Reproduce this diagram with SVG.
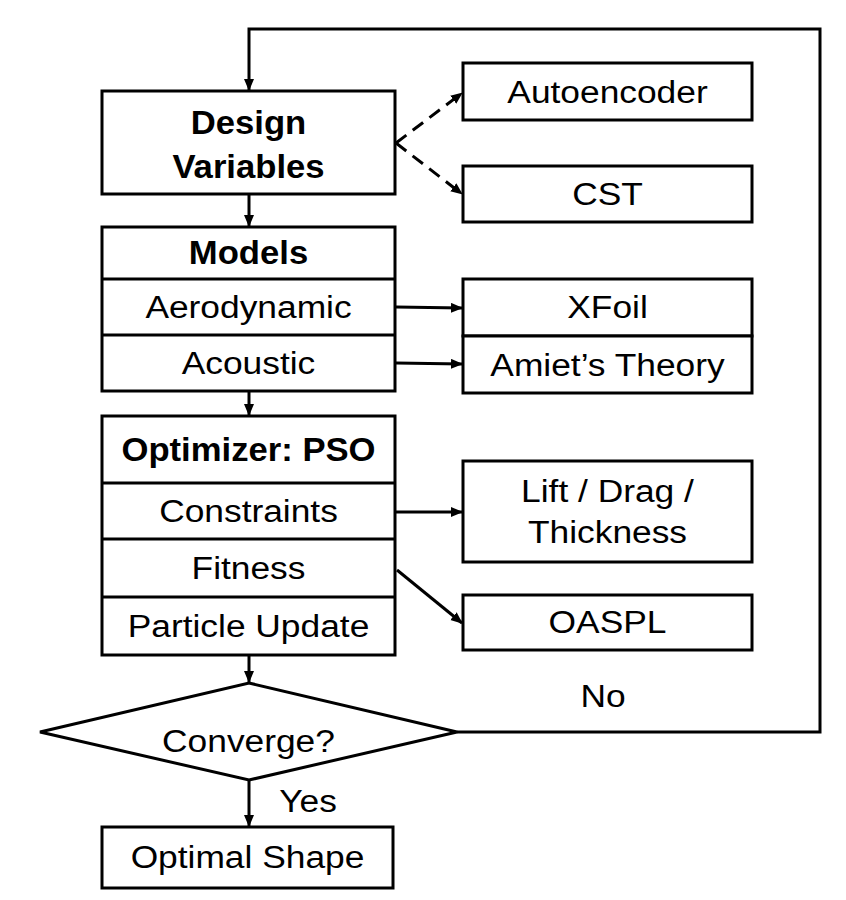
<svg xmlns="http://www.w3.org/2000/svg" width="846" height="900" viewBox="0 0 846 900">
<style>
  .box { fill: #ffffff; stroke: #000000; stroke-width: 3; }
  .div { stroke: #000000; stroke-width: 3; }
  .t { font-family: "Liberation Sans", Arial, sans-serif; font-size: 31px; fill: #000000; text-anchor: middle; }
  .b { font-weight: bold; font-size: 33px; }
  .c { fill: none; stroke: #000000; stroke-width: 3; }
  .d { stroke-dasharray: 13 8; }
</style>
<defs>
  <marker id="ah" markerUnits="userSpaceOnUse" markerWidth="14" markerHeight="12" refX="11" refY="5" orient="auto">
    <path d="M0,0 L12,5 L0,10 z" fill="#000000"/>
  </marker>
</defs>
<rect width="846" height="900" fill="#ffffff"/>

<g id="connectors">
  <path class="c" d="M457,732 L820,732 L820,29 L249,29 L249,90" marker-end="url(#ah)"/>
  <path class="c" d="M249,194 L249,226" marker-end="url(#ah)"/>
  <path class="c" d="M249,391 L249,415" marker-end="url(#ah)"/>
  <path class="c" d="M249,655 L249,682" marker-end="url(#ah)"/>
  <path class="c" d="M249,780 L249,826" marker-end="url(#ah)"/>
  <path class="c d" d="M396,143 L462,93" marker-end="url(#ah)"/>
  <path class="c d" d="M396,143 L462,194" marker-end="url(#ah)"/>
  <path class="c" d="M396,307 L462,308" marker-end="url(#ah)"/>
  <path class="c" d="M396,363 L462,364" marker-end="url(#ah)"/>
  <path class="c" d="M396,512 L462,512" marker-end="url(#ah)"/>
  <path class="c" d="M397,570 L462,623" marker-end="url(#ah)"/>
</g>

<g id="design-variables">
  <rect class="box" x="102" y="91" width="293" height="103"/>
  <text class="t b" transform="translate(248.5,134) scale(1.05,1)">Design</text>
  <text class="t b" transform="translate(248.5,178) scale(1.05,1)">Variables</text>
</g>

<g id="autoencoder">
  <rect class="box" x="463" y="63" width="289" height="57"/>
  <text class="t" transform="translate(607.5,103) scale(1.14,1)">Autoencoder</text>
</g>

<g id="cst">
  <rect class="box" x="463" y="166" width="289" height="56"/>
  <text class="t" transform="translate(607.5,205) scale(1.14,1)">CST</text>
</g>

<g id="models">
  <rect class="box" x="102" y="227" width="293" height="164"/>
  <line class="div" x1="102" y1="279" x2="395" y2="279"/>
  <line class="div" x1="102" y1="335" x2="395" y2="335"/>
  <text class="t b" transform="translate(248.5,264) scale(1.05,1)">Models</text>
  <text class="t" transform="translate(248.5,318) scale(1.14,1)">Aerodynamic</text>
  <text class="t" transform="translate(248.5,374) scale(1.14,1)">Acoustic</text>
</g>

<g id="xfoil">
  <rect class="box" x="463" y="279" width="289" height="57"/>
  <text class="t" transform="translate(607.5,318) scale(1.14,1)">XFoil</text>
</g>

<g id="amiet">
  <rect class="box" x="463" y="336" width="289" height="57"/>
  <text class="t" transform="translate(607.5,376) scale(1.14,1)">Amiet’s Theory</text>
</g>

<g id="optimizer">
  <rect class="box" x="102" y="416" width="293" height="239"/>
  <line class="div" x1="102" y1="483" x2="395" y2="483"/>
  <line class="div" x1="102" y1="539" x2="395" y2="539"/>
  <line class="div" x1="102" y1="597" x2="395" y2="597"/>
  <text class="t b" transform="translate(248.5,461) scale(1.05,1)">Optimizer: PSO</text>
  <text class="t" transform="translate(248.5,522) scale(1.14,1)">Constraints</text>
  <text class="t" transform="translate(248.5,579) scale(1.14,1)">Fitness</text>
  <text class="t" transform="translate(248.5,637) scale(1.14,1)">Particle Update</text>
</g>

<g id="lift-drag-thickness">
  <rect class="box" x="463" y="461" width="289" height="101"/>
  <text class="t" transform="translate(607.5,502) scale(1.14,1)">Lift / Drag /</text>
  <text class="t" transform="translate(607.5,543) scale(1.14,1)">Thickness</text>
</g>

<g id="oaspl">
  <rect class="box" x="463" y="595" width="289" height="55"/>
  <text class="t" transform="translate(607.5,633) scale(1.14,1)">OASPL</text>
</g>

<g id="converge">
  <polygon class="box" points="40,732 249,683 457,732 249,780"/>
  <text class="t" transform="translate(248.5,752) scale(1.14,1)">Converge?</text>
</g>

<g id="labels">
  <text class="t" transform="translate(603,707) scale(1.14,1)">No</text>
  <text class="t" transform="translate(308,812) scale(1.14,1)">Yes</text>
</g>

<g id="optimal-shape">
  <rect class="box" x="102" y="827" width="291" height="61"/>
  <text class="t" transform="translate(247.5,868) scale(1.14,1)">Optimal Shape</text>
</g>
</svg>
